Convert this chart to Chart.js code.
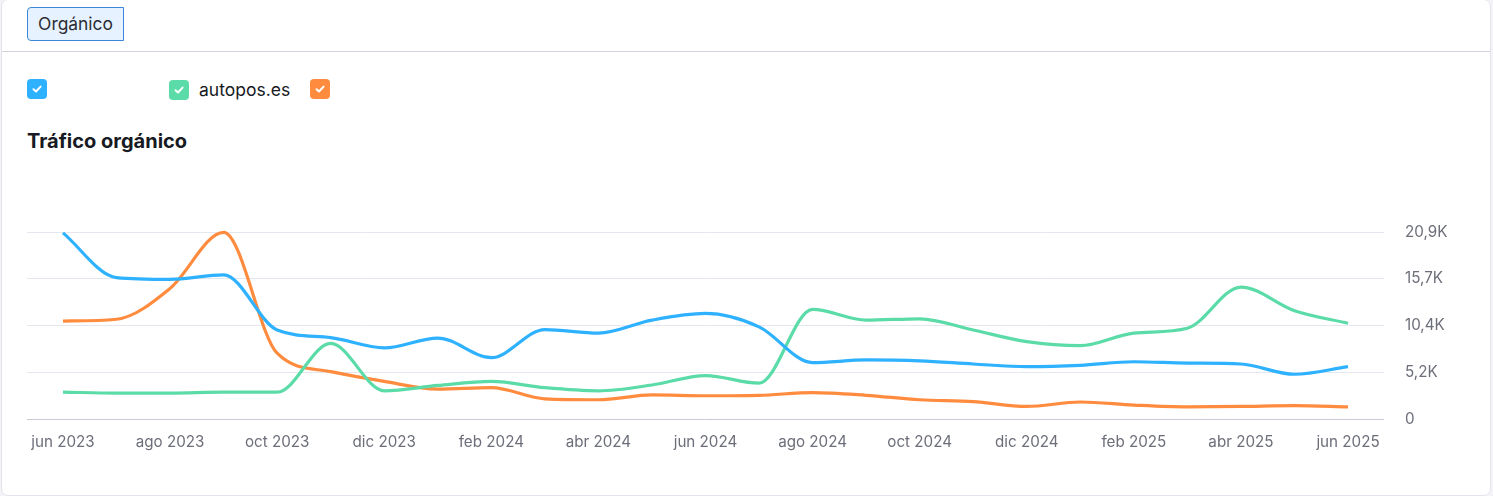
<!DOCTYPE html>
<html lang="es">
<head>
<meta charset="utf-8">
<title>Tráfico orgánico</title>
<script src="https://cdn.jsdelivr.net/npm/chart.js@4.4.1/dist/chart.umd.min.js"></script>
<style>
  html, body { margin: 0; padding: 0; }
  body { width: 1493px; height: 496px; background: #F4F4F8; font-family: Inter, 'Noto Sans', sans-serif; position: relative; overflow: hidden; }
  .card { position: absolute; left: 1px; top: -1px; width: 1488px; height: 495px; background: #fff; border: 1px solid #E3E4EB; border-radius: 7px; }
  .tab { position: absolute; left: 25px; top: 7px; width: 97px; height: 34px; box-sizing: border-box; background: #E6F2FF; border: 1px solid #3B86DB; border-radius: 4px 0 0 4px; font-size: 17.4px; color: #2B2D36; line-height: 32px; text-align: center; }
  .sep { position: absolute; left: 0; top: 51px; width: 1488px; height: 1px; background: #D3D4DC; }
  .legend { position: absolute; top: 79px; left: 25px; height: 22px; }
  .lg { position: absolute; top: 0; display: flex; align-items: center; white-space: nowrap; }
  .box { width: 20px; height: 20px; border-radius: 4px; display: flex; align-items: center; justify-content: center; }
  .lg span { margin-left: 10px; font-size: 17.5px; color: #171A22; }
  h2 { position: absolute; left: 25px; top: 129px; margin: 0; font-size: 20px; font-weight: 700; color: #171A22; }
  .chart-wrap { position: absolute; left: 25px; top: 199px; width: 1437px; height: 260px; }
</style>
</head>
<body>
<div class="card">
  <div class="tab">Orgánico</div>
  <div class="sep"></div>
  <div class="legend" id="legend"></div>
  <h2>Tráfico orgánico</h2>
  <div class="chart-wrap"><canvas id="trafficChart"></canvas></div>
</div>
<script>
// month categories, one point per month
const months = ['jun 2023', 'jul 2023', 'ago 2023', 'sep 2023', 'oct 2023', 'nov 2023', 'dic 2023', 'ene 2024',
  'feb 2024', 'mar 2024', 'abr 2024', 'may 2024', 'jun 2024', 'jul 2024', 'ago 2024', 'sep 2024', 'oct 2024',
  'nov 2024', 'dic 2024', 'ene 2025', 'feb 2025', 'mar 2025', 'abr 2025', 'may 2025', 'jun 2025'];

// series values (visits)
const domainA = [20800, 15800, 15600, 16100, 9950, 9100, 7950, 9050, 6850, 10000, 9600, 11050, 11800,
  10300, 6300, 6600, 6500, 6150, 5850, 6000, 6400, 6250, 6150, 5000, 5850];
const autopos = [3000, 2900, 2900, 3000, 3000, 8450, 3150, 3750, 4200, 3500, 3150, 3800, 4850,
  4000, 12250, 11050, 11200, 9950, 8650, 8200, 9600, 10150, 14750, 12100, 10700];
const domainC = [10950, 11150, 14600, 20850, 7350, 5300, 4200, 3350, 3500, 2250, 2150, 2700, 2600,
  2650, 2950, 2650, 2150, 1950, 1400, 1900, 1550, 1350, 1400, 1500, 1350];

const seriesNames = ['', 'autopos.es', ''];
const seriesColors = ['#2EB1FF', '#5BDBA8', '#FF8C3E'];

// axis ticks
const xTickIndex = [0, 2, 4, 6, 8, 10, 12, 14, 16, 18, 20, 22, 24];
const yTickValues = [0, 5225, 10450, 15675, 20900];
const yTickLabels = ['0', '5,2K', '10,4K', '15,7K', '20,9K'];

// HTML legend (checkbox style)
const legendEl = document.getElementById('legend');
const legendX = [0, 142, 283];
seriesNames.forEach((name, i) => {
  const item = document.createElement('div');
  item.className = 'lg';
  item.style.left = legendX[i] + 'px';
  item.innerHTML = `<div class="box" style="background:${seriesColors[i]}">
      <svg width="12" height="12" viewBox="0 0 12 12"><path d="M2.5 6.2 L5 8.5 L9.6 3.6" fill="none" stroke="#fff" stroke-width="2" stroke-linecap="round" stroke-linejoin="round"/></svg>
    </div>` + (name ? `<span>${name}</span>` : '');
  legendEl.appendChild(item);
});

Chart.defaults.font.family = 'Inter, "Noto Sans", sans-serif';

function toPoints(arr) {
  return arr.map((v, i) => ({ x: i, y: v }));
}

const allSeries = [domainA, autopos, domainC];

new Chart(document.getElementById('trafficChart'), {
  type: 'line',
  data: {
    datasets: allSeries.map((s, i) => ({
      label: seriesNames[i] || ('serie ' + (i + 1)),
      data: toPoints(s),
      borderColor: seriesColors[i],
      backgroundColor: seriesColors[i],
      borderWidth: 3.2,
      pointRadius: 0,
      cubicInterpolationMode: 'monotone',
      fill: false,
      clip: 4
    }))
  },
  options: {
    responsive: true,
    maintainAspectRatio: false,
    animation: false,
    layout: { padding: { top: 33, left: 0, right: 0, bottom: 0 } },
    plugins: {
      legend: { display: false },
      tooltip: { enabled: false }
    },
    scales: {
      x: {
        type: 'linear',
        min: -0.672,
        max: 24.672,
        afterBuildTicks: scale => { scale.ticks = xTickIndex.map(v => ({ value: v })); },
        afterFit: scale => {
          scale.height = 40;
          scale.paddingLeft = 0;
          scale.paddingRight = 0;
        },
        grid: { display: false, drawTicks: false },
        border: { display: false },
        ticks: {
          padding: 14,
          maxRotation: 0,
          autoSkip: false,
          color: '#6C6E79',
          font: { size: 15.2 },
          callback: value => months[value]
        }
      },
      y: {
        position: 'right',
        min: 0,
        max: 20900,
        afterBuildTicks: scale => { scale.ticks = yTickValues.map(v => ({ value: v })); },
        afterFit: scale => { scale.width = 80; },
        grid: {
          drawTicks: false,
          color: ctx => ctx.tick && ctx.tick.value === 0 ? '#C9CBD4' : '#E6E7EE',
          lineWidth: 1
        },
        border: { display: false },
        ticks: {
          padding: 21,
          color: '#6C6E79',
          font: { size: 15.2 },
          callback: value => yTickLabels[yTickValues.indexOf(value)]
        }
      }
    }
  }
});
</script>
</body>
</html>
